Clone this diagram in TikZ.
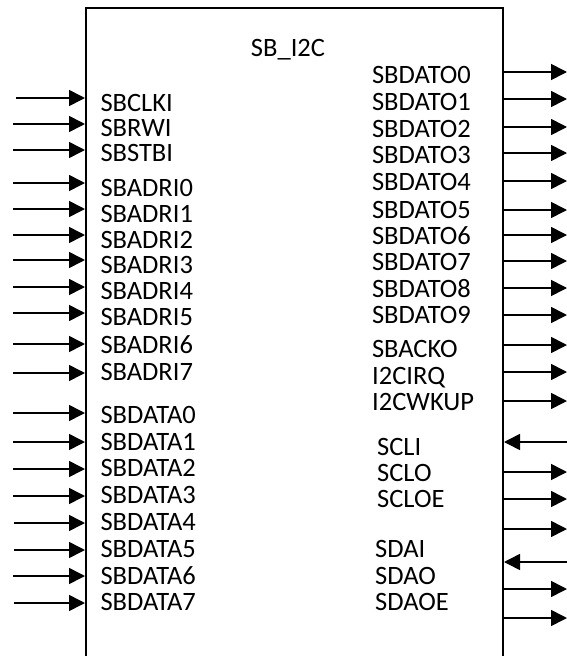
\documentclass[tikz,border=0pt]{standalone}
\usepackage{fontspec}
\setmainfont{Carlito}
\usetikzlibrary{arrows.meta}
\begin{document}
\begin{tikzpicture}[x=1pt,y=-1pt,
  lbl/.style={anchor=base west,inner sep=0pt,font=\fontsize{26.5}{30}\selectfont},
  sig/.style={line width=1.6pt,-{Triangle[length=16pt,width=16pt]}},
  boxline/.style={line width=1.1pt}]
\useasboundingbox (0,0) rectangle (567,656);
% block outline (open at the bottom, it runs past the picture)
\coordinate (bl) at (86,656);
\coordinate (tl) at (86,8);
\coordinate (tr) at (503,8);
\coordinate (br) at (503,656);
\draw[boxline] (bl) -- (tl) -- (tr) -- (br);
\node[anchor=base,inner sep=0pt,font=\fontsize{26.5}{30}\selectfont] (title) at (288,56.5) {SB\_I2C};
% left inputs: name / text centre / arrow y / start x
\foreach \n/\t/\a/\s [count=\i] in {
  SBCLKI/103/98/16, SBRWI/128/124/13, SBSTBI/153/150/13,
  SBADRI0/188/183/13, SBADRI1/214/209/13, SBADRI2/240/235/13, SBADRI3/265/260/13,
  SBADRI4/291/287/13, SBADRI5/317/313/13, SBADRI6/345/344/13, SBADRI7/372/373/13,
  SBDATA0/415/413/13, SBDATA1/442/442/13, SBDATA2/468/469/13, SBDATA3/495/496/13,
  SBDATA4/522/523/14, SBDATA5/549/550/14, SBDATA6/576/576/13, SBDATA7/602/603/14}{
  \node[lbl] (in\i) at (100.3,\t+8.4) {\n};
  \coordinate (ins\i) at (\s,\a);
  \coordinate (ine\i) at (85,\a);
  \draw[sig] (ins\i) -- (ine\i);
}
% right side outputs
\foreach \n/\t/\a/\x [count=\i] in {
  SBDATO0/75/72/371.8, SBDATO1/102/99/371.8, SBDATO2/129/127/371.8, SBDATO3/155/153/371.8,
  SBDATO4/182/181/371.8, SBDATO5/210/210/371.8, SBDATO6/236/235/371.8, SBDATO7/262/261/371.8,
  SBDATO8/289/288/371.8, SBDATO9/315/315/371.8, SBACKO/349/345/371.8, I2CIRQ/376/372/372,
  I2CWKUP/402/401/372, SCLO/473/472/377, SCLOE/499/499/377, SDAO/576/589/375, SDAOE/602/618/375}{
  \node[lbl] (out\i) at (\x,\t+8.4) {\n};
  \coordinate (outs\i) at (503,\a);
  \coordinate (oute\i) at (567,\a);
  \draw[sig] (outs\i) -- (oute\i);
}
% extra output without label
\coordinate (xs1) at (503,529); \coordinate (xe1) at (567,529);
\draw[sig] (xs1) -- (xe1);
% inputs from the right
\node[lbl] (scli) at (377,447+8.4) {SCLI};
\node[lbl] (sdai) at (375,549+8.4) {SDAI};
\coordinate (sclis) at (567,442); \coordinate (sclie) at (504,442);
\draw[sig] (sclis) -- (sclie);
\coordinate (sdais) at (567,562); \coordinate (sdaie) at (504,562);
\draw[sig] (sdais) -- (sdaie);
\end{tikzpicture}
\end{document}
